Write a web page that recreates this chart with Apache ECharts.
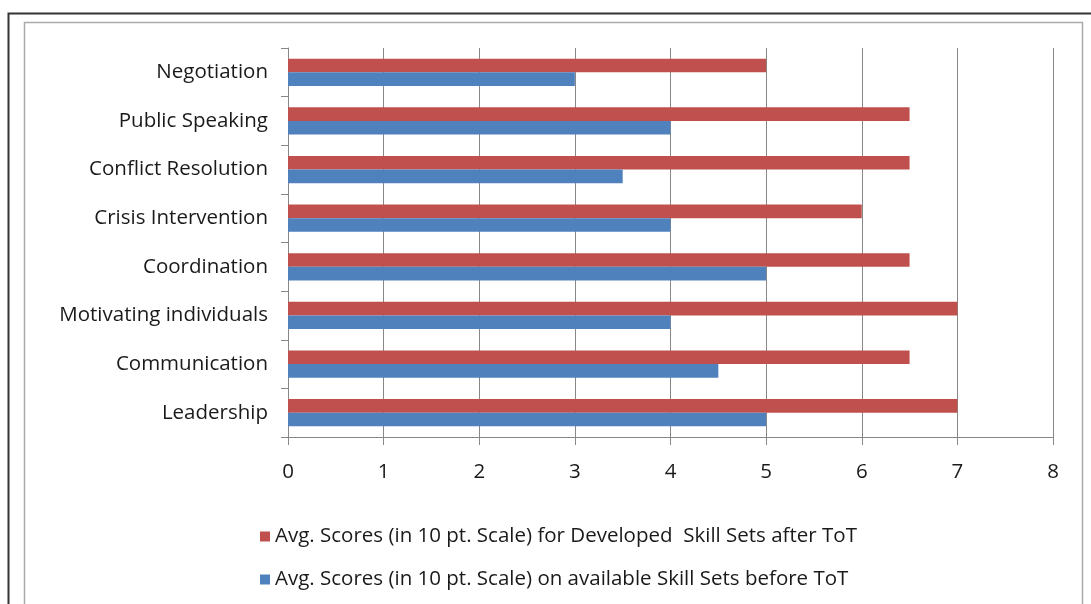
<!DOCTYPE html>
<html><head><meta charset="utf-8">
<script src="https://cdn.jsdelivr.net/npm/echarts@6/dist/echarts.min.js"></script>
<style>html,body{margin:0;padding:0;background:#fff}#c{width:1091px;height:604px}</style>
</head><body><div id="c"></div>
<script>
const categories = ["Leadership","Communication","Motivating individuals","Coordination","Crisis Intervention","Conflict Resolution","Public Speaking","Negotiation"];
const afterToT = [7, 6.5, 7, 6.5, 6, 6.5, 6.5, 5];
const beforeToT = [5, 4.5, 4, 5, 4, 3.5, 4, 3];
const xTicks = [0,1,2,3,4,5,6,7,8];
const nameAfter = "Avg. Scores (in 10 pt. Scale) for Developed  Skill Sets after ToT";
const nameBefore = "Avg. Scores (in 10 pt. Scale) on available Skill Sets before ToT";
const FONT = "Open Sans";
const FS = 20.5;
const chart = echarts.init(document.getElementById('c'));
chart.setOption({
  animation:false,
  backgroundColor:'#fff',
  graphic:[
    {type:'rect',shape:{x:8.5,y:13.5,width:1100,height:700},style:{fill:'none',stroke:'#333',lineWidth:2}},
    {type:'rect',shape:{x:24.5,y:22.5,width:1058,height:700},style:{fill:'none',stroke:'#aaa',lineWidth:1.5}}
  ],
  grid:{left:288,right:38,top:48,bottom:167},
  legend:{
    orient:'vertical',left:255,top:521,itemWidth:10,itemHeight:10,itemGap:22,
    data:[nameAfter,nameBefore],
    textStyle:{fontFamily:FONT,fontSize:FS,color:'#1a1a1a'},
    icon:'rect'
  },
  xAxis:{
    type:'value',min:0,max:8,interval:1,
    axisLine:{show:true,lineStyle:{color:'#888'}},
    axisTick:{show:true,length:8,lineStyle:{color:'#888'}},
    splitLine:{show:true,lineStyle:{color:'#888',width:1}},
    axisLabel:{fontFamily:FONT,fontSize:FS,color:'#1a1a1a',margin:25,formatter:v=>xTicks.includes(v)?String(v):''}
  },
  yAxis:{
    type:'category',data:categories,
    axisLine:{show:true,lineStyle:{color:'#888'}},
    axisTick:{show:true,length:7,lineStyle:{color:'#888'}},
    axisLabel:{fontFamily:FONT,fontSize:FS,color:'#1a1a1a',margin:20}
  },
  series:[
    {name:nameAfter,type:'bar',data:afterToT,barGap:'0%',barCategoryGap:'44%',itemStyle:{color:'#C0504D'}},
    {name:nameBefore,type:'bar',data:beforeToT,barGap:'0%',barCategoryGap:'44%',itemStyle:{color:'#4F81BD'}}
  ]
});
</script></body></html>
